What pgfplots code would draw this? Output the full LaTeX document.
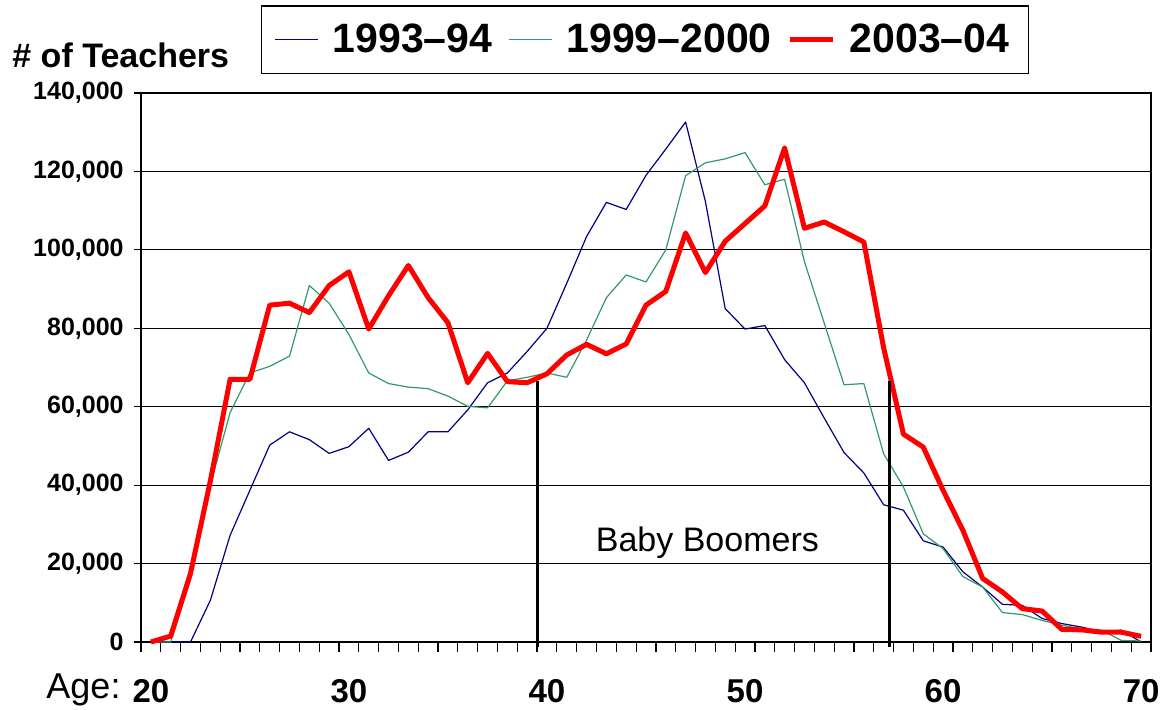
\documentclass[border=0pt]{standalone}
\usepackage{pgfplots}
\pgfplotsset{compat=1.18}
\usepackage{fontspec}
\setmainfont{Liberation Sans}
\definecolor{cblue}{RGB}{0,0,128}
\definecolor{cgreen}{RGB}{51,153,102}
\definecolor{cred}{RGB}{255,0,0}
\begin{document}
\begin{tikzpicture}
\begin{axis}[
  at={(0,0)}, anchor=south west,
  scale only axis, width=505pt, height=274.5pt,
  xmin=19.5, xmax=70.5, ymin=0, ymax=140000,
  xtick={20,30,40,50,60,70},
  minor xtick={19.5,20.5,...,70.5},
  major x tick style={draw=none},
  minor tick length=5pt, major tick length=3.5pt,
  tick align=outside,
  xtick pos=bottom, ytick pos=left,
  ytick={0,20000,40000,60000,80000,100000,120000,140000},
  ymajorgrids, grid style={black, line width=0.6pt},
  axis line style={black, line width=0.7pt},
  tick style={black, line width=0.6pt},
  xticklabel style={font=\bfseries\fontsize{16.5}{16.5}\selectfont, inner sep=0pt, anchor=center, yshift=-21pt},
  yticklabel style={font=\bfseries\fontsize{12.5}{12.5}\selectfont, inner sep=0pt, xshift=-5pt,
     /pgf/number format/fixed, /pgf/number format/1000 sep={,}},
  scaled y ticks=false,
  /pgf/number format/assume math mode=true,
  clip=false,
  legend columns=3,
  legend style={at={(0.499,1.097)}, anchor=center, draw=black, line width=0.65pt,
     font=\bfseries\fontsize{20.5}{20.5}\selectfont,
     nodes={inner sep=0pt},
     inner xsep=6.5pt, inner ysep=9pt,
     /tikz/every odd column/.append style={column sep=7pt},
     /tikz/every even column/.append style={column sep=8pt}},
  legend image code/.code={\draw[#1] (0pt,0pt) -- (21.5pt,0pt);},
]
\addplot[cblue, line width=0.6pt, line join=round] coordinates {
(20,0) (21,0) (22,0) (23,10600) (24,27200) (25,38700) (26,50200) (27,53600) (28,51600) (29,48100)
(30,49800) (31,54500) (32,46300) (33,48400) (34,53600) (35,53600) (36,59200) (37,66100) (38,68600) (39,74100)
(40,80000) (41,91500) (42,103400) (43,112100) (44,110300) (45,119000) (46,125700) (47,132600) (48,112300) (49,85000)
(50,79800) (51,80700) (52,72000) (53,66100) (54,57100) (55,48300) (56,43100) (57,35000) (58,33600) (59,25800)
(60,24200) (61,17900) (62,14000) (63,9600) (64,9350) (65,6000) (66,4700) (67,3800) (68,2550) (69,3000) (70,0)};
\addlegendentry{1993–94}
\addplot[cgreen, line width=0.6pt, line join=round] coordinates {
(20,0) (21,0) (22,16000) (23,40000) (24,58500) (25,68600) (26,70300) (27,72900) (28,90900) (29,86400)
(30,78400) (31,68600) (32,65900) (33,65000) (34,64600) (35,62700) (36,60100) (37,59700) (38,66600) (39,67500)
(40,68600) (41,67500) (42,77000) (43,87800) (44,93600) (45,91800) (46,100000) (47,118900) (48,122200) (49,123200)
(50,124800) (51,116600) (52,118000) (53,97000) (54,81300) (55,65600) (56,65900) (57,48000) (58,39500) (59,27600)
(60,23800) (61,16700) (62,14000) (63,7500) (64,7000) (65,5500) (66,4250) (67,3400) (68,3000) (69,400) (70,250)};
\addlegendentry{1999–2000}
\addplot[cred, line width=2.5pt, line join=round] coordinates {
(20,0) (21,1500) (22,17500) (23,41000) (24,67000) (25,67000) (26,85900) (27,86400) (28,84000) (29,90900)
(30,94400) (31,79800) (32,88300) (33,96000) (34,87800) (35,81400) (36,66100) (37,73600) (38,66400) (39,66100)
(40,68400) (41,73200) (42,75900) (43,73500) (44,76000) (45,85900) (46,89400) (47,104300) (48,94200) (49,102200)
(50,106700) (51,111200) (52,126000) (53,105500) (54,107100) (55,104600) (56,102000) (57,75000) (58,53000) (59,49700)
(60,38700) (61,28500) (62,16200) (63,12750) (64,8500) (65,7900) (66,3200) (67,3100) (68,2500) (69,2500) (70,1450)};
\addlegendentry{2003–04\hspace*{3pt}}
\addplot[black, line width=1.5pt, forget plot] coordinates {(39.5,-1200) (39.5,66500)};
\addplot[black, line width=1.5pt, forget plot] coordinates {(57.3,-1200) (57.3,66500)};
\node[font=\fontsize{17}{17}\selectfont] at (axis cs:48.1,25250) {Baby Boomers};
\node[anchor=west, inner sep=0pt, font=\bfseries\fontsize{17}{17}\selectfont] at (rel axis cs:-0.1277,1.069) {\# of Teachers};
\node[anchor=west, inner sep=0pt, font=\fontsize{18}{18}\selectfont] at (rel axis cs:-0.094,-0.0874) {Age:};
\end{axis}
\pgfresetboundingbox
\path[use as bounding box] (-70.5pt,-34pt) rectangle (512.5pt,321pt);
\end{tikzpicture}
\end{document}
